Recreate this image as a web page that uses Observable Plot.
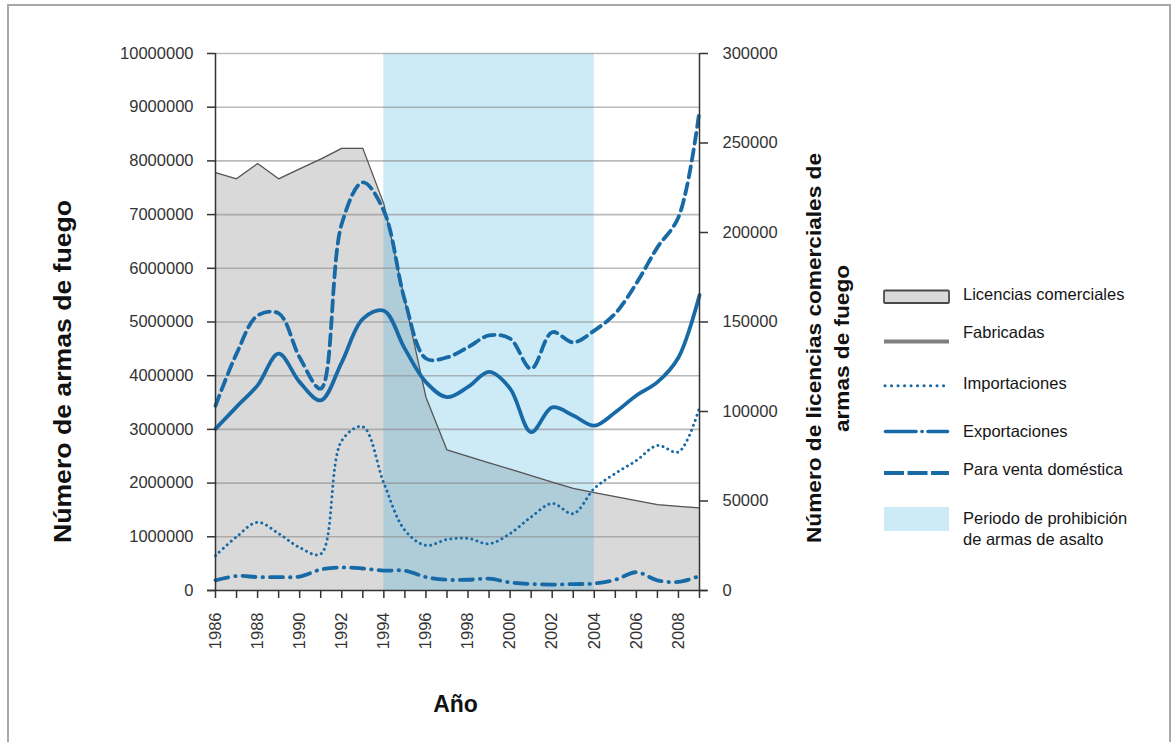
<!DOCTYPE html>
<html>
<head>
<meta charset="utf-8">
<script src="https://cdn.jsdelivr.net/npm/d3@7"></script>
<script src="https://cdn.jsdelivr.net/npm/@observablehq/plot@0.6"></script>
<style>
  html, body { margin: 0; padding: 0; background: #fff; overflow: hidden; width: 1172px; height: 742px; }
  #wrap { position: relative; width: 1172px; height: 742px; }
  #frame { position: absolute; left: 7px; top: 4px; width: 1160px; height: 800px; border: 2.5px solid #a8a8a8; border-bottom: none; pointer-events: none; }
  #chart { position: absolute; left: 0; top: 0; }
</style>
</head>
<body>
<div id="wrap"><div id="chart"></div><div id="frame"></div></div>
<script>
// ---- Data ----
const years = [1986,1987,1988,1989,1990,1991,1992,1993,1994,1995,1996,1997,1998,1999,2000,2001,2002,2003,2004,2005,2006,2007,2008,2009];
// Licencias comerciales (right axis, number of licences)
const licencias = [233500,230000,238500,230000,235500,241000,247000,247000,216000,162000,108000,78500,74900,71300,67800,64200,60600,57000,54700,52500,50200,48000,47000,46200];
// Firearms (left axis, millions)
const fabricadas = [3.01,3.42,3.82,4.41,3.88,3.54,4.25,5.06,5.21,4.50,3.88,3.60,3.79,4.07,3.76,2.95,3.41,3.26,3.07,3.32,3.63,3.88,4.34,5.50];
const importaciones = [0.65,1.00,1.27,1.06,0.80,0.68,2.79,3.05,2.00,1.12,0.84,0.95,0.97,0.87,1.06,1.37,1.62,1.43,1.90,2.18,2.42,2.70,2.58,3.41];
const exportaciones = [0.19,0.27,0.25,0.25,0.26,0.39,0.43,0.41,0.37,0.37,0.25,0.20,0.20,0.22,0.15,0.12,0.11,0.12,0.13,0.20,0.34,0.19,0.16,0.27];
const ventaDomestica = [3.44,4.41,5.12,5.16,4.34,3.76,6.83,7.60,7.07,5.40,4.32,4.34,4.53,4.75,4.69,4.13,4.81,4.62,4.84,5.16,5.72,6.39,6.95,8.94];
const banPeriod = [{start: 1994, end: 2004}];
const leftTicks = [0,1000000,2000000,3000000,4000000,5000000,6000000,7000000,8000000,9000000,10000000];
const rightTicks = [0,50000,100000,150000,200000,250000,300000];
const xLabelYears = [1986,1988,1990,1992,1994,1996,1998,2000,2002,2004,2006,2008];

const yMax = 10000000, rMax = 300000, k = yMax / rMax;
const rows = years.map((y, i) => ({
  year: y,
  lic: licencias[i] * k,
  fab: fabricadas[i] * 1e6,
  imp: importaciones[i] * 1e6,
  exp: exportaciones[i] * 1e6,
  dom: ventaDomestica[i] * 1e6
}));
const blue = "#176aa6";
const font = "'Liberation Sans', Arial, sans-serif";

const plot = Plot.plot({
  width: 1172, height: 742,
  marginLeft: 215, marginRight: 473, marginTop: 53, marginBottom: 152,
  style: {fontFamily: font, fontSize: "16.5px", color: "#333", background: "transparent"},
  x: {domain: [1986, 2009]},
  y: {domain: [0, yMax]},
  marks: [
    Plot.areaY(rows, {x: "year", y: "lic", fill: "#d9d9d9"}),
    Plot.rect(banPeriod, {x1: "start", x2: "end", y1: () => 0, y2: () => yMax, fill: "rgb(17,155,217)", fillOpacity: 0.21}),
    Plot.ruleY(leftTicks.filter(d => d > 0), {stroke: "#8c8c8c", strokeOpacity: 0.6, strokeWidth: 1.6}),
    Plot.lineY(rows, {x: "year", y: "lic", stroke: "#555", strokeWidth: 1.3}),
    Plot.lineY(rows, {x: "year", y: "exp", stroke: blue, strokeWidth: 3.8, curve: "catmull-rom", strokeDasharray: "13,7,0.5,7", strokeLinecap: "round"}),
    Plot.lineY(rows, {x: "year", y: "imp", stroke: blue, strokeWidth: 2.9, curve: "catmull-rom", strokeDasharray: "0.1,5.2", strokeLinecap: "round"}),
    Plot.lineY(rows, {x: "year", y: "dom", stroke: blue, strokeWidth: 3.8, curve: "catmull-rom", strokeDasharray: "11,6"}),
    Plot.lineY(rows, {x: "year", y: "fab", stroke: blue, strokeWidth: 3.8, curve: "catmull-rom"}),
    Plot.ruleX([1986, 2009], {stroke: "#333", strokeWidth: 1.5}),
    Plot.ruleY([0], {x1: 1986 - 8/21.05, x2: 2009 + 8/21.05, stroke: "#333", strokeWidth: 1.5}),
    Plot.axisY(leftTicks, {anchor: "left", tickSize: 8, tickPadding: 14, tickFormat: d => String(d), label: null, stroke: "#333", strokeWidth: 1.5}),
    Plot.axisY(rightTicks.map(d => d * k), {anchor: "right", tickSize: 8, tickPadding: 15, tickFormat: d => String(Math.round(d / k)), label: null, stroke: "#333", strokeWidth: 1.5}),
    Plot.axisX(years, {anchor: "bottom", tickSize: 8, tickPadding: 14, tickRotate: -90, tickFormat: d => xLabelYears.includes(d) ? String(d) : "", label: null, stroke: "#333", strokeWidth: 1.5})
  ]
});
document.getElementById("chart").appendChild(plot);

// ---- Titles and legend ----
const svg = d3.select(plot);
const g = svg.append("g").attr("font-family", font).attr("fill", "#111").attr("text-anchor", "start");

g.append("text").text("Número de armas de fuego")
  .attr("transform", "translate(70.5,371.5) rotate(-90)")
  .attr("text-anchor", "middle").attr("font-weight", "bold").attr("font-size", 23)
  .attr("textLength", 343).attr("lengthAdjust", "spacingAndGlyphs");
g.append("text").text("Número de licencias comerciales de")
  .attr("transform", "translate(821,348) rotate(-90)")
  .attr("text-anchor", "middle").attr("font-weight", "bold").attr("font-size", 21)
  .attr("textLength", 390).attr("lengthAdjust", "spacingAndGlyphs");
g.append("text").text("armas de fuego")
  .attr("transform", "translate(849,348.5) rotate(-90)")
  .attr("text-anchor", "middle").attr("font-weight", "bold").attr("font-size", 21)
  .attr("textLength", 167).attr("lengthAdjust", "spacingAndGlyphs");
g.append("text").text("Año")
  .attr("x", 455.5).attr("y", 711.5)
  .attr("text-anchor", "middle").attr("font-weight", "bold").attr("font-size", 23);

const lx0 = 884, lx1 = 949, tx = 963;
// Licencias comerciales
g.append("rect").attr("x", lx0).attr("y", 290.5).attr("width", lx1 - lx0).attr("height", 12.5)
  .attr("fill", "#d9d9d9").attr("stroke", "#4a4a4a").attr("stroke-width", 1.8).attr("rx", 1);
// Fabricadas
g.append("line").attr("x1", lx0).attr("x2", lx1).attr("y1", 341.5).attr("y2", 341.5)
  .attr("stroke", "#808080").attr("stroke-width", 4);
// Importaciones
g.append("line").attr("x1", lx0 + 1).attr("x2", lx1).attr("y1", 385.7).attr("y2", 385.7)
  .attr("stroke", blue).attr("stroke-width", 3).attr("stroke-dasharray", "0.1,6.4").attr("stroke-linecap", "round");
// Exportaciones
g.append("line").attr("x1", lx0 + 1.5).attr("x2", lx0 + 32).attr("y1", 431.5).attr("y2", 431.5)
  .attr("stroke", blue).attr("stroke-width", 3.6).attr("stroke-linecap", "round");
g.append("line").attr("x1", lx0 + 38).attr("x2", lx0 + 38.2).attr("y1", 431.5).attr("y2", 431.5)
  .attr("stroke", blue).attr("stroke-width", 3.6).attr("stroke-linecap", "round");
g.append("line").attr("x1", lx0 + 44).attr("x2", lx1 - 1.5).attr("y1", 431.5).attr("y2", 431.5)
  .attr("stroke", blue).attr("stroke-width", 3.6).attr("stroke-linecap", "round");
// Para venta doméstica
g.append("line").attr("x1", lx0).attr("x2", lx1).attr("y1", 473).attr("y2", 473)
  .attr("stroke", blue).attr("stroke-width", 4).attr("stroke-dasharray", "20,3.5");
// Periodo
g.append("rect").attr("x", lx0).attr("y", 507).attr("width", lx1 - lx0).attr("height", 24).attr("fill", "#cdeaf7");

const legendTexts = [
  ["Licencias comerciales", 300],
  ["Fabricadas", 338],
  ["Importaciones", 389],
  ["Exportaciones", 436.5],
  ["Para venta doméstica", 475],
  ["Periodo de prohibición", 523.5],
  ["de armas de asalto", 544.5]
];
legendTexts.forEach(([t, y]) => {
  g.append("text").text(t).attr("x", tx).attr("y", y).attr("text-anchor", "start")
    .attr("font-size", 16.5).attr("fill", "#151515");
});
</script>
</body>
</html>
